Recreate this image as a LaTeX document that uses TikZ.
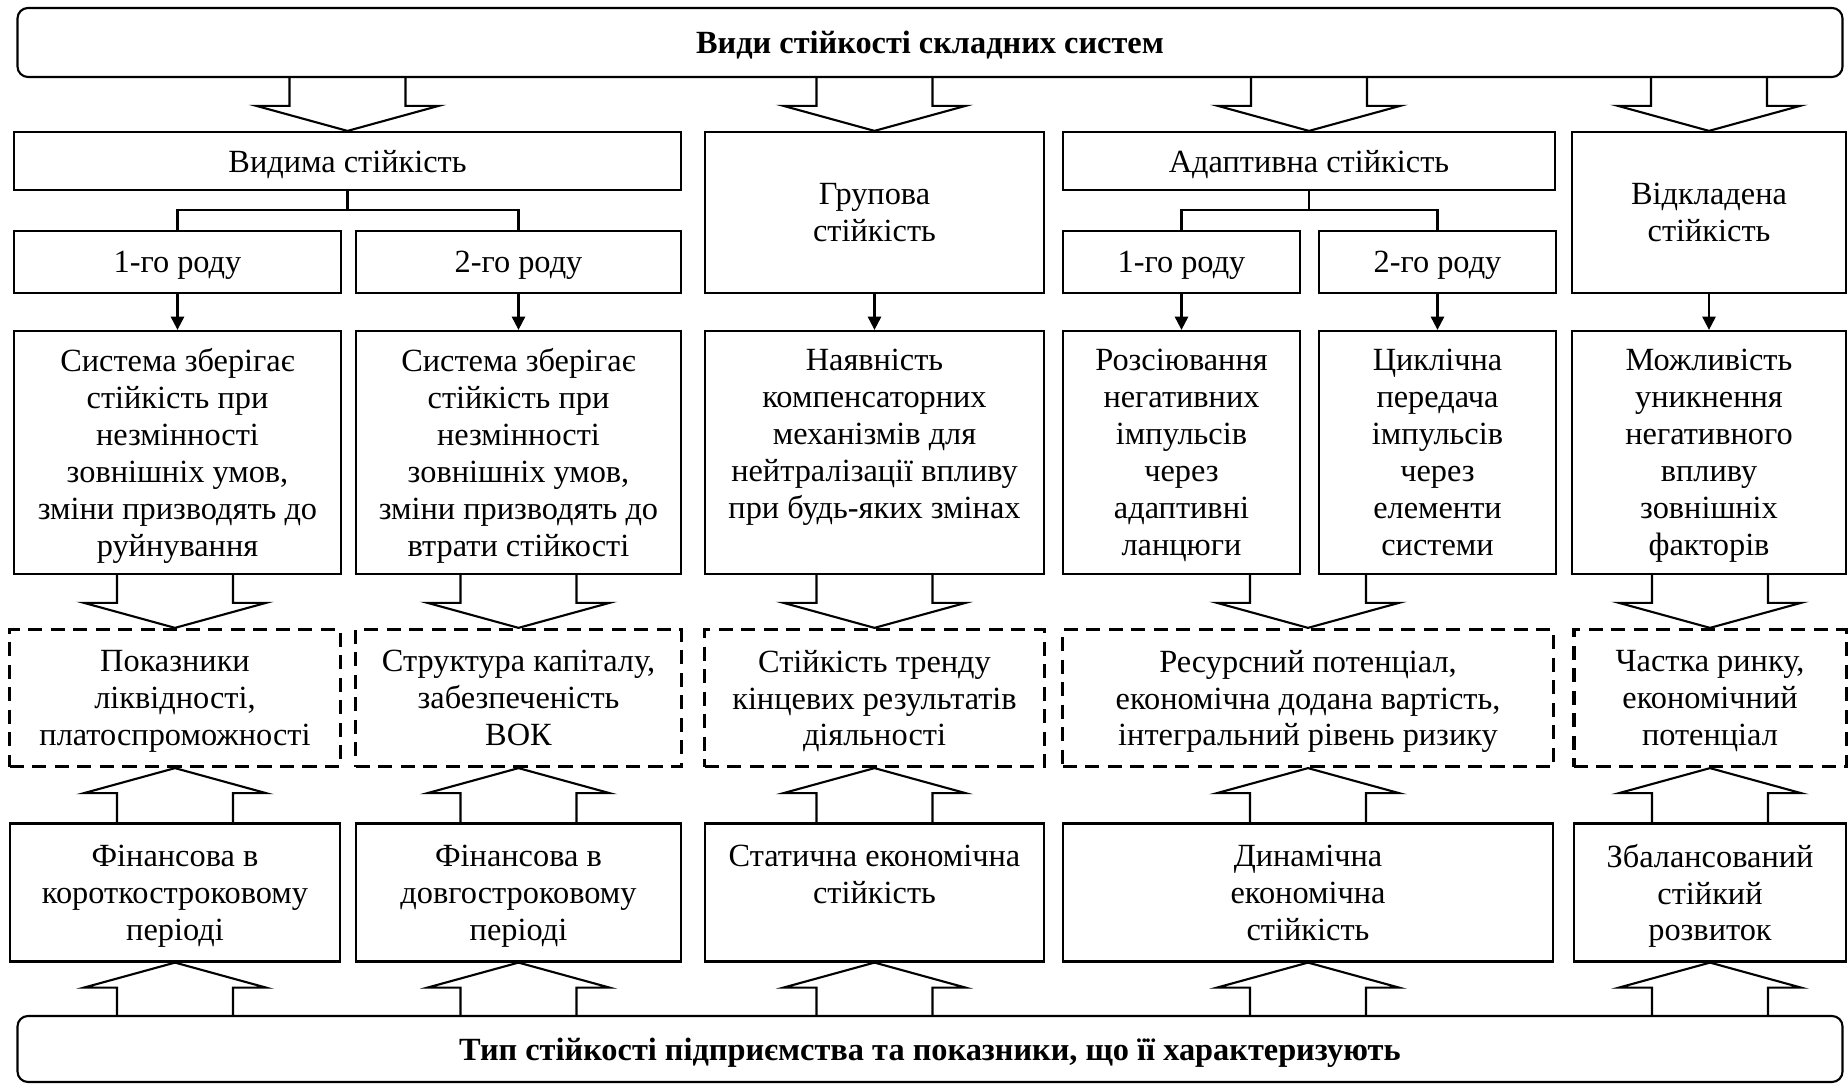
\documentclass[tikz,border=0pt]{standalone}
\usepackage{fontspec}
\setmainfont{Liberation Serif}
\usetikzlibrary{arrows.meta,calc}
\tikzset{
  vbox/.style={rectangle, draw=black, line width=0.6pt, inner sep=0pt, align=center,
    text depth=0pt, font=\fontsize{9.2}{10.5}\selectfont},
  pokaz/.style={vbox, line width=0.9pt, dash pattern=on 4pt off 2.4pt},
  holovna/.style={vbox, rounded corners=3pt, font=\fontsize{9.2}{10.5}\selectfont\bfseries},
  strilka/.style={line width=0.6pt, -{Triangle[length=3.8pt,width=3.8pt]}},
  liniya/.style={line width=0.6pt}
}
\newcommand{\blokstrilka}[2]{%
  \coordinate (bs) at #1; \coordinate (bt) at #2;
  \coordinate (bh) at ($(bt)!0.25cm!(bs)$);
  \draw[liniya] ($(bs)!0.58cm!90:(bt)$) -- ($(bh)!0.58cm!90:(bt)$) -- ($(bh)!0.91cm!90:(bt)$)
    -- (bt) -- ($(bh)!0.91cm!-90:(bt)$) -- ($(bh)!0.58cm!-90:(bt)$) -- ($(bs)!0.58cm!-90:(bt)$);
}
\begin{document}
\begin{tikzpicture}[x=0.01cm, y=-0.01cm]
\useasboundingbox (0,0) rectangle (1848,1086);
\node[holovna, minimum width=18.24cm, minimum height=0.69cm] (vydy) at (930,42.5) {Види стійкості складних систем};
\node[holovna, minimum width=18.24cm, minimum height=0.66cm] (typ) at (930,1049) {Тип стійкості підприємства та показники, що її характеризують};
% row 1
\node[vbox, minimum width=6.67cm, minimum height=0.58cm] (vydyma) at (347.5,161) {Видима стійкість};
\node[vbox, minimum width=3.39cm, minimum height=1.61cm] (hrupova) at (874.5,212.5) {Групова\\стійкість};
\node[vbox, minimum width=4.92cm, minimum height=0.58cm] (adapt) at (1309,161) {Адаптивна стійкість};
\node[vbox, minimum width=2.74cm, minimum height=1.61cm] (vidkl) at (1709,212.5) {Відкладена\\стійкість};
% row 2
\node[vbox, minimum width=3.27cm, minimum height=0.62cm] (vyd1) at (177.5,262) {1-го роду};
\node[vbox, minimum width=3.25cm, minimum height=0.62cm] (vyd2) at (518.5,262) {2-го роду};
\node[vbox, minimum width=2.37cm, minimum height=0.62cm] (ad1) at (1181.5,262) {1-го роду};
\node[vbox, minimum width=2.37cm, minimum height=0.62cm] (ad2) at (1437.5,262) {2-го роду};
% row 3
\node[vbox, minimum width=3.27cm, minimum height=2.43cm] (a3) at (177.5,452.5) {Система зберігає\\стійкість при\\незмінності\\зовнішніх умов,\\зміни призводять до\\руйнування};
\node[vbox, minimum width=3.25cm, minimum height=2.43cm] (b3) at (518.5,452.5) {Система зберігає\\стійкість при\\незмінності\\зовнішніх умов,\\зміни призводять до\\втрати стійкості};
\node[vbox, minimum width=3.39cm, minimum height=2.43cm] (c3) at (874.5,452.5) {Наявність\\компенсаторних\\механізмів для\\нейтралізації впливу\\при будь-яких змінах\\~};
\node[vbox, minimum width=2.37cm, minimum height=2.43cm] (e13) at (1181.5,452.5) {Розсіювання\\негативних\\імпульсів\\через\\адаптивні\\ланцюги};
\node[vbox, minimum width=2.37cm, minimum height=2.43cm] (e23) at (1437.5,452.5) {Циклічна\\передача\\імпульсів\\через\\елементи\\системи};
\node[vbox, minimum width=2.74cm, minimum height=2.43cm] (d3) at (1709,452.5) {Можливість\\уникнення\\негативного\\впливу\\зовнішніх\\факторів};
% row 4
\node[pokaz, minimum width=3.30cm, minimum height=1.37cm] (a4) at (175,698) {Показники\\ліквідності,\\платоспроможності};
\node[pokaz, minimum width=3.25cm, minimum height=1.37cm] (b4) at (518.5,698) {Структура капіталу,\\забезпеченість\\ВОК};
\node[pokaz, minimum width=3.39cm, minimum height=1.37cm] (c4) at (874.5,698) {Стійкість тренду\\кінцевих результатів\\діяльності};
\node[pokaz, minimum width=4.90cm, minimum height=1.37cm] (e4) at (1308,698) {Ресурсний потенціал,\\економічна додана вартість,\\інтегральний рівень ризику};
\node[pokaz, minimum width=2.72cm, minimum height=1.37cm] (d4) at (1710,698) {Частка ринку,\\економічний\\потенціал};
% row 5
\node[vbox, minimum width=3.30cm, minimum height=1.38cm] (a5) at (175,892.5) {Фінансова в\\короткостроковому\\періоді};
\node[vbox, minimum width=3.25cm, minimum height=1.38cm] (b5) at (518.5,892.5) {Фінансова в\\довгостроковому\\періоді};
\node[vbox, minimum width=3.39cm, minimum height=1.38cm] (c5) at (874.5,892.5) {Статична економічна\\стійкість\\~};
\node[vbox, minimum width=4.90cm, minimum height=1.38cm] (e5) at (1308,892.5) {Динамічна\\економічна\\стійкість};
\node[vbox, minimum width=2.72cm, minimum height=1.38cm] (d5) at (1710,892.5) {Збалансований\\стійкий\\розвиток};
% tree lines
\draw[liniya] (vydyma.south) -- ++(0,19) coordinate (vj);
\draw[liniya] (vyd1.north) |- (vj) -| (vyd2.north);
\draw[liniya] (adapt.south) -- ++(0,19) coordinate (aj);
\draw[liniya] (ad1.north) |- (aj) -| (ad2.north);
\draw[strilka] (vyd1.south) -- (a3.north);
\draw[strilka] (vyd2.south) -- (b3.north);
\draw[strilka] (hrupova.south) -- (c3.north);
\draw[strilka] (ad1.south) -- (e13.north);
\draw[strilka] (ad2.south) -- (e23.north);
\draw[strilka] (vidkl.south) -- (d3.north);
% block arrows
\blokstrilka{(vydy.south -| vydyma.north)}{(vydyma.north)}
\blokstrilka{(vydy.south -| hrupova.north)}{(hrupova.north)}
\blokstrilka{(vydy.south -| adapt.north)}{(adapt.north)}
\blokstrilka{(vydy.south -| vidkl.north)}{(vidkl.north)}
\blokstrilka{(a3.south -| a4.north)}{(a4.north)}
\blokstrilka{(b3.south -| b4.north)}{(b4.north)}
\blokstrilka{(c3.south -| c4.north)}{(c4.north)}
\blokstrilka{(e13.south -| e4.north)}{(e4.north)}
\blokstrilka{(d3.south -| d4.north)}{(d4.north)}
\blokstrilka{(a5.north)}{(a4.south)}
\blokstrilka{(b5.north)}{(b4.south)}
\blokstrilka{(c5.north)}{(c4.south)}
\blokstrilka{(e5.north)}{(e4.south)}
\blokstrilka{(d5.north)}{(d4.south)}
\blokstrilka{(typ.north -| a5.south)}{(a5.south)}
\blokstrilka{(typ.north -| b5.south)}{(b5.south)}
\blokstrilka{(typ.north -| c5.south)}{(c5.south)}
\blokstrilka{(typ.north -| e5.south)}{(e5.south)}
\blokstrilka{(typ.north -| d5.south)}{(d5.south)}
\end{tikzpicture}
\end{document}
